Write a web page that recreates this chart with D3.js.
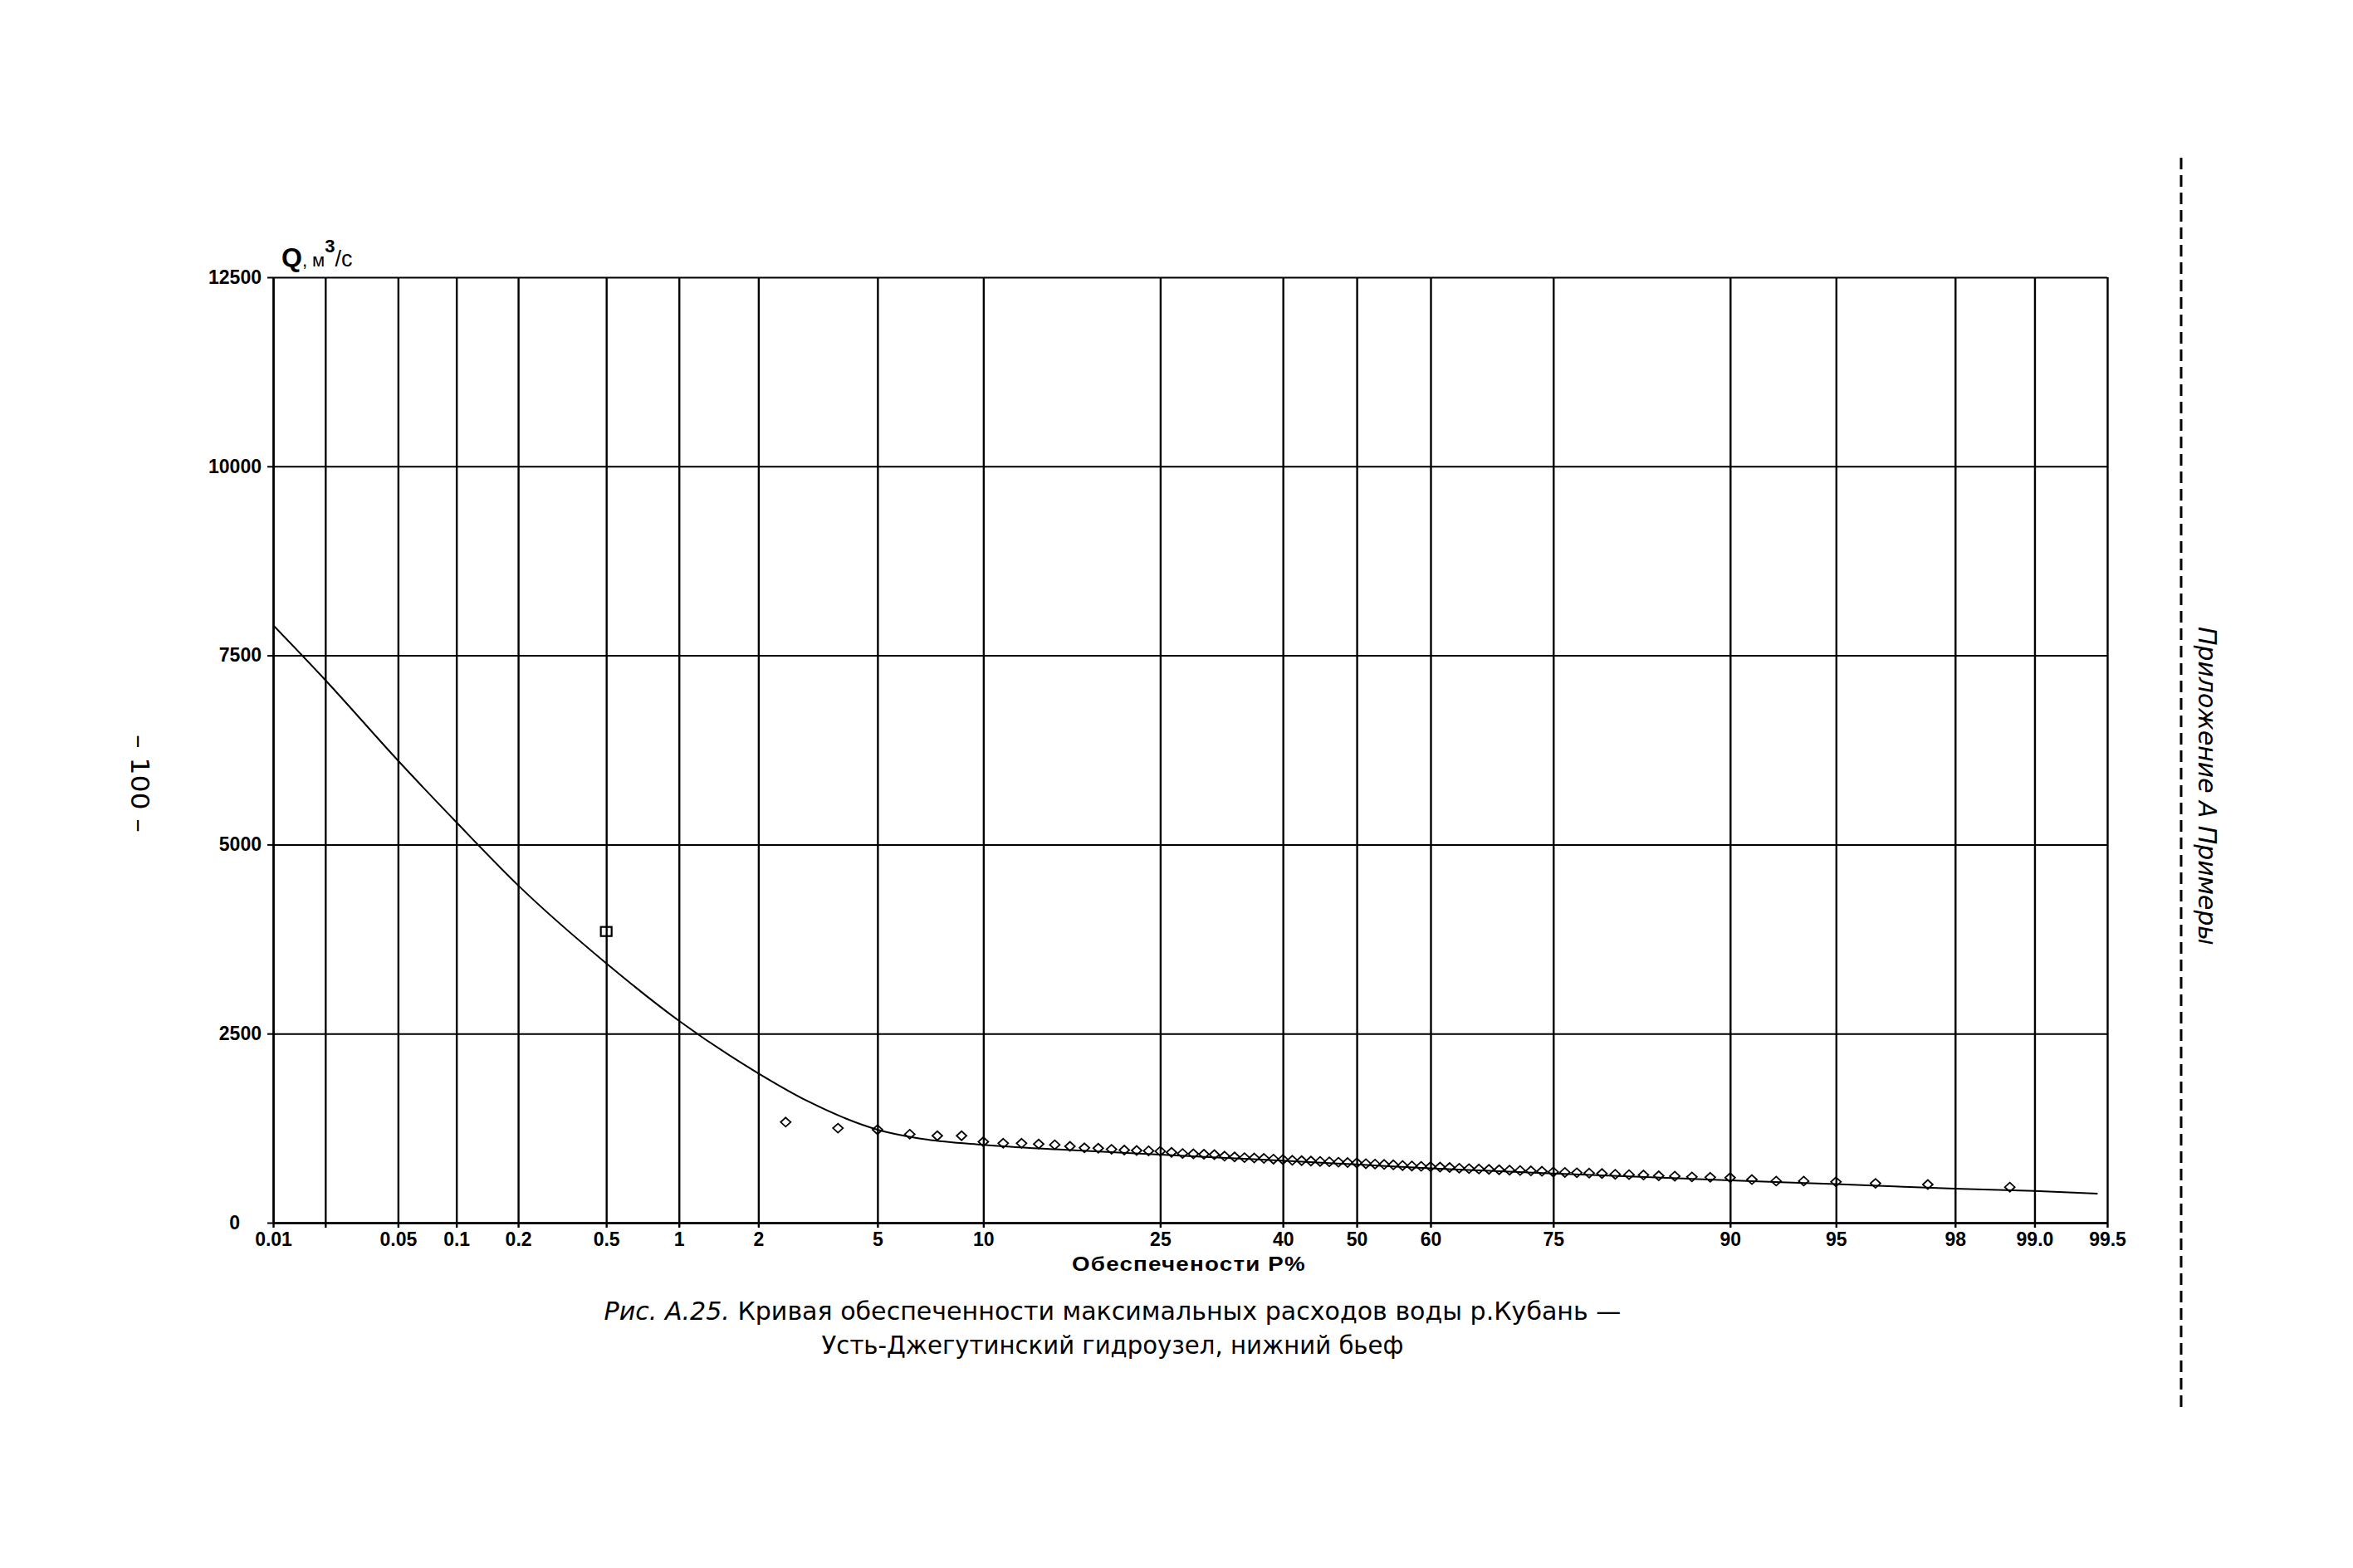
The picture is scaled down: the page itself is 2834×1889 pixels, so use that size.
<!DOCTYPE html>
<html>
<head>
<meta charset="utf-8">
<script src="https://cdn.jsdelivr.net/npm/d3@7"></script>
<style>
  body { margin: 0; background: #fff; }
  text { fill: #000; }
</style>
</head>
<body>
<svg id="chart"></svg>
<script>
// ---- data ----
const probTicks = [0.01, 0.02, 0.05, 0.1, 0.2, 0.5, 1, 2, 5, 10, 25, 40, 50, 60, 75, 90, 95, 98, 99, 99.5];
const probLabels = ["0.01", "", "0.05", "0.1", "0.2", "0.5", "1", "2", "5", "10", "25", "40", "50", "60", "75", "90", "95", "98", "99.0", "99.5"];
const qTicks = [0, 2500, 5000, 7500, 10000, 12500];

// fitted curve
const curveP = [0.01, 0.02, 0.05, 0.1, 0.2, 0.5, 1, 2, 3, 5, 7, 10, 15, 25, 40, 50, 60, 75, 90, 95, 98, 99, 99.45];
const curveQ = [7900, 7175, 6110, 5295, 4460, 3430, 2670, 1975, 1600, 1230, 1100, 1030, 970, 900, 820, 770, 720, 650, 560, 510, 450, 420, 385];

// observed maxima (diamonds)
const obsP = [2.5, 3.75, 5, 6.25, 7.5, 8.75, 10, 11.25, 12.5, 13.75, 15, 16.25, 17.5, 18.75, 20, 21.25, 22.5, 23.75, 25, 26.25,
  27.5, 28.75, 30, 31.25, 32.5, 33.75, 35, 36.25, 37.5, 38.75, 40, 41.25, 42.5, 43.75, 45, 46.25, 47.5, 48.75, 50, 51.25,
  52.5, 53.75, 55, 56.25, 57.5, 58.75, 60, 61.25, 62.5, 63.75, 65, 66.25, 67.5, 68.75, 70, 71.25, 72.5, 73.75, 75, 76.25,
  77.5, 78.75, 80, 81.25, 82.5, 83.75, 85, 86.25, 87.5, 88.75, 90, 91.25, 92.5, 93.75, 95, 96.25, 97.5, 98.75];
const obsQ = [1330, 1250, 1230, 1170, 1150, 1150, 1070, 1050, 1050, 1040, 1030, 1010, 990, 985, 970, 960, 955, 950, 945, 930,
  915, 910, 905, 900, 880, 870, 860, 855, 850, 840, 835, 825, 820, 815, 810, 805, 800, 795, 790, 780,
  775, 770, 765, 755, 750, 745, 740, 735, 730, 720, 715, 710, 705, 700, 695, 690, 685, 680, 670, 665,
  660, 655, 650, 640, 635, 630, 620, 615, 605, 600, 595, 570, 550, 550, 540, 520, 505, 470];

// historical maximum (square)
const histP = [0.5];
const histQ = [3850];

// ---- layout ----
const W = 2834, H = 1889;
const plotL = 329, plotR = 2538, plotT = 334, plotB = 1473;

// inverse normal CDF (Acklam), for the probability paper axis
function probit(p) {
  const a = [-3.969683028665376e+01, 2.209460984245205e+02, -2.759285104469687e+02, 1.383577518672690e+02, -3.066479806614716e+01, 2.506628277459239e+00];
  const b = [-5.447609879822406e+01, 1.615858368580409e+02, -1.556989798598866e+02, 6.680131188771972e+01, -1.328068155288572e+01];
  const c = [-7.784894002430293e-03, -3.223964580411365e-01, -2.400758277161838e+00, -2.549732539343734e+00, 4.374664141464968e+00, 2.938163982698783e+00];
  const d = [7.784695709041462e-03, 3.224671290700398e-01, 2.445134137142996e+00, 3.754408661907416e+00];
  const pl = 0.02425;
  let q, r;
  if (p < pl) {
    q = Math.sqrt(-2 * Math.log(p));
    return (((((c[0] * q + c[1]) * q + c[2]) * q + c[3]) * q + c[4]) * q + c[5]) / ((((d[0] * q + d[1]) * q + d[2]) * q + d[3]) * q + 1);
  }
  if (p <= 1 - pl) {
    q = p - 0.5; r = q * q;
    return (((((a[0] * r + a[1]) * r + a[2]) * r + a[3]) * r + a[4]) * r + a[5]) * q / (((((b[0] * r + b[1]) * r + b[2]) * r + b[3]) * r + b[4]) * r + 1);
  }
  q = Math.sqrt(-2 * Math.log(1 - p));
  return -(((((c[0] * q + c[1]) * q + c[2]) * q + c[3]) * q + c[4]) * q + c[5]) / ((((d[0] * q + d[1]) * q + d[2]) * q + d[3]) * q + 1);
}

const zScale = d3.scaleLinear()
  .domain([probit(0.0001), probit(0.995)])
  .range([plotL, plotR]);
const x = p => zScale(probit(p / 100));
const y = d3.scaleLinear().domain([0, 12500]).range([plotB, plotT]);

const svg = d3.select('#chart')
  .attr('width', W).attr('height', H)
  .attr('viewBox', [0, 0, W, H]);

svg.append('rect').attr('width', W).attr('height', H).attr('fill', '#fff');

const tickFont = '"Liberation Sans", Arial, sans-serif';

// vertical grid
svg.append('g')
  .attr('transform', `translate(0,${plotB})`)
  .call(d3.axisBottom(zScale)
    .tickValues(probTicks.map(p => probit(p / 100)))
    .tickSizeInner(-(plotB - plotT))
    .tickSizeOuter(0)
    .tickFormat(''))
  .call(g => g.select('.domain').remove())
  .call(g => g.selectAll('line').attr('stroke', '#000').attr('stroke-width', 2.4));

// horizontal grid
svg.append('g')
  .attr('transform', `translate(${plotL},0)`)
  .call(d3.axisLeft(y)
    .tickValues(qTicks)
    .tickSizeInner(-(plotR - plotL))
    .tickSizeOuter(0)
    .tickFormat(''))
  .call(g => g.select('.domain').remove())
  .call(g => g.selectAll('line').attr('stroke', '#000').attr('stroke-width', 2));

// x axis with labels
svg.append('g')
  .attr('transform', `translate(0,${plotB})`)
  .call(d3.axisBottom(zScale)
    .tickValues(probTicks.map(p => probit(p / 100)))
    .tickSizeInner(6)
    .tickSizeOuter(0)
    .tickPadding(6)
    .tickFormat((d, i) => probLabels[i]))
  .call(g => g.select('.domain').attr('stroke-width', 2.4))
  .call(g => g.selectAll('line').attr('stroke-width', 2.4))
  .call(g => g.selectAll('text')
    .attr('font-family', tickFont)
    .attr('font-size', 23)
    .attr('font-weight', 'bold')
    .attr('fill', '#000'));

// y axis with labels
svg.append('g')
  .attr('transform', `translate(${plotL},0)`)
  .call(d3.axisLeft(y)
    .tickValues(qTicks)
    .tickSizeInner(7)
    .tickSizeOuter(0)
    .tickPadding(7)
    .tickFormat(d3.format('d')))
  .call(g => g.select('.domain').attr('stroke-width', 2.4))
  .call(g => g.selectAll('line').attr('stroke-width', 2))
  .call(g => g.selectAll('text')
    .attr('font-family', tickFont)
    .attr('font-size', 23)
    .attr('font-weight', 'bold')
    .attr('fill', '#000'))
  // the zero label sits further left in the original
  .call(g => g.selectAll('.tick').filter(d => d === 0).select('text').attr('x', -40));

// y axis title: Q, м3/с
const yTitle = svg.append('text')
  .attr('x', 339).attr('y', 321)
  .attr('font-family', tickFont)
  .attr('font-weight', 'bold');
yTitle.append('tspan').attr('font-size', 32).text('Q');
yTitle.append('tspan').attr('font-size', 22).attr('font-weight', 'normal').text(', м');
yTitle.append('tspan').attr('font-size', 22).attr('dy', -17).text('3');
yTitle.append('tspan').attr('font-size', 27).attr('dy', 17).attr('font-weight', 'normal').text('/с');

// text stretched along its own direction to a given length
const thinFont = '"Liberation Sans Narrow", "DejaVu Sans Condensed", "Liberation Sans", sans-serif';
function placeText(cx, cy, angle, length, size, build, family) {
  const g = svg.append('g');
  const t = g.append('text')
    .attr('text-anchor', 'middle')
    .attr('font-family', family || thinFont)
    .attr('font-size', size);
  build(t);
  const w = t.node().getComputedTextLength();
  g.attr('transform', `translate(${cx},${cy}) rotate(${angle}) scale(${length / w},1)`);
}

// x axis title
placeText(1432, 1531, 0, 282, 23,
  t => t.attr('font-weight', 'bold').attr('letter-spacing', 1).text('Обеспечености  Р%'), tickFont);

// fitted curve
const curveData = curveP.map((p, i) => ({ p, q: curveQ[i] }));
svg.append('path')
  .datum(curveData)
  .attr('fill', 'none')
  .attr('stroke', '#000')
  .attr('stroke-width', 2)
  .attr('d', d3.line()
    .x(d => x(d.p))
    .y(d => y(d.q))
    .curve(d3.curveMonotoneX));

// observed points
const obs = obsP.map((p, i) => ({ p, q: obsQ[i] }));
svg.append('g')
  .selectAll('path')
  .data(obs)
  .join('path')
  .attr('transform', d => `translate(${x(d.p)},${y(d.q)})`)
  .attr('d', 'M0,-5.5L6,0L0,5.5L-6,0Z')
  .attr('fill', 'none')
  .attr('stroke', '#000')
  .attr('stroke-width', 1.8);

// historical maximum
svg.append('g')
  .selectAll('rect')
  .data(histP.map((p, i) => ({ p, q: histQ[i] })))
  .join('rect')
  .attr('x', d => x(d.p) - 6.5)
  .attr('y', d => y(d.q) - 5.5)
  .attr('width', 13).attr('height', 11)
  .attr('fill', 'none')
  .attr('stroke', '#000')
  .attr('stroke-width', 2.2);

// caption
placeText(1340, 1590, 0, 1225, 31, t => {
  t.append('tspan').attr('font-style', 'italic').text('Рис. А.25.');
  t.append('tspan').text(' Кривая обеспеченности максимальных расходов воды р.Кубань —');
});
placeText(1340, 1631, 0, 701, 31, t => t.text('Усть-Джегутинский гидроузел, нижний бьеф'));

// page number
placeText(158, 944, 90, 118, 31, t => t.text('– 100 –'));

// running head on the right
placeText(2648, 947, 90, 384, 31, t => t.attr('font-style', 'italic').text('Приложение А  Примеры'));

// dashed cut line
svg.append('line')
  .attr('x1', 2627).attr('x2', 2627)
  .attr('y1', 190).attr('y2', 1699)
  .attr('stroke', '#000')
  .attr('stroke-width', 3)
  .attr('stroke-dasharray', '14 7');
</script>
</body>
</html>
